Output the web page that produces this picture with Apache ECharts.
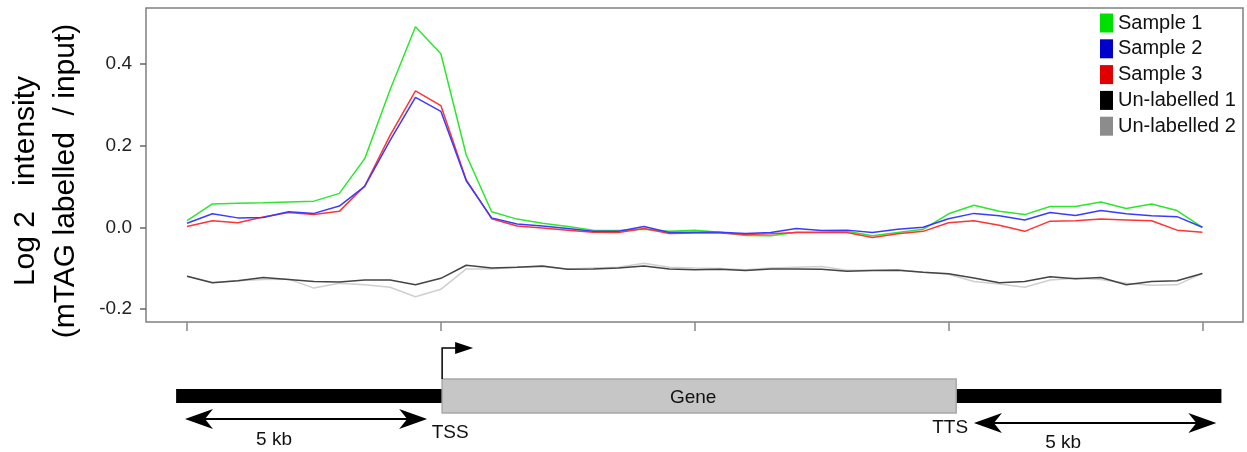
<!DOCTYPE html>
<html>
<head>
<meta charset="utf-8">
<script src="https://cdn.jsdelivr.net/npm/echarts@6.0.0/dist/echarts.min.js"></script>
<style>
  html, body { margin: 0; padding: 0; background: #fff; }
  #main { width: 1247px; height: 452px; }
</style>
</head>
<body>
<div id="main"></div>
<script>
// log2 (mTAG labelled / input), 41 bins: 5 kb upstream, gene body, 5 kb downstream
const sample1 = [0.016, 0.057, 0.059, 0.060, 0.062, 0.064, 0.083, 0.168, 0.337, 0.491,
  0.425, 0.177, 0.038, 0.020, 0.010, 0.002, -0.007, -0.008, -0.005, -0.010,
  -0.007, -0.012, -0.020, -0.021, -0.012, -0.012, -0.010, -0.021, -0.013, -0.005,
  0.033, 0.054, 0.039, 0.031, 0.051, 0.051, 0.062, 0.046, 0.057, 0.041, 0.000]
const sample2 = [0.010, 0.033, 0.023, 0.024, 0.038, 0.034, 0.052, 0.100, 0.213, 0.318,
  0.284, 0.114, 0.023, 0.008, 0.003, -0.003, -0.010, -0.010, 0.002, -0.013,
  -0.012, -0.012, -0.015, -0.013, -0.003, -0.008, -0.007, -0.013, -0.005, 0.000,
  0.021, 0.034, 0.028, 0.018, 0.036, 0.029, 0.041, 0.033, 0.028, 0.026, 0.000]
const sample3 = [0.002, 0.016, 0.011, 0.025, 0.036, 0.031, 0.039, 0.101, 0.225, 0.334,
  0.298, 0.116, 0.021, 0.003, -0.002, -0.007, -0.012, -0.013, -0.003, -0.015,
  -0.014, -0.014, -0.018, -0.016, -0.013, -0.013, -0.013, -0.025, -0.016, -0.010,
  0.011, 0.016, 0.005, -0.010, 0.015, 0.016, 0.020, 0.018, 0.016, -0.007, -0.012]
const unlabelled1 = [-0.120, -0.136, -0.131, -0.123, -0.128, -0.133, -0.134, -0.129, -0.129, -0.141,
  -0.125, -0.093, -0.100, -0.098, -0.095, -0.103, -0.102, -0.100, -0.095, -0.102,
  -0.104, -0.103, -0.106, -0.102, -0.102, -0.103, -0.108, -0.106, -0.105, -0.110,
  -0.114, -0.124, -0.136, -0.133, -0.121, -0.126, -0.123, -0.141, -0.133, -0.131, -0.113]
const unlabelled2 = [-0.120, -0.135, -0.131, -0.128, -0.127, -0.149, -0.137, -0.141, -0.147, -0.170,
  -0.152, -0.102, -0.102, -0.098, -0.097, -0.102, -0.100, -0.098, -0.088, -0.098,
  -0.100, -0.101, -0.104, -0.100, -0.098, -0.096, -0.105, -0.105, -0.104, -0.110,
  -0.115, -0.133, -0.139, -0.147, -0.129, -0.125, -0.128, -0.137, -0.142, -0.141, -0.113]

const seriesNames = ['Sample 1', 'Sample 2', 'Sample 3', 'Un-labelled 1', 'Un-labelled 2']
const xTicks = [0, 10, 20, 30, 40]      // upstream end, TSS, mid gene, TTS, downstream end
const yTicks = [-0.2, 0, 0.2, 0.4]

const font = 'Liberation Sans, Arial, sans-serif'
const lineColors = ['#2ee62e', '#3b3bff', '#ff3434', '#444444', '#cfcfcf']
const keyColors = ['#00e000', '#0000cc', '#e00000', '#000000', '#8c8c8c']

function pairs(arr) {
  return arr.map((v, i) => [i, v])
}

let myChart = echarts.init(document.getElementById('main'))

let allData = [sample1, sample2, sample3, unlabelled1, unlabelled2]
let series = []
// draw grey controls first so samples sit on top
;[4, 3, 0, 2, 1].forEach(k => {
  series.push({
    name: seriesNames[k],
    type: 'line',
    data: pairs(allData[k]),
    showSymbol: false,
    symbol: 'none',
    itemStyle: { color: lineColors[k] },
    lineStyle: { color: lineColors[k], width: 1.5 },
    emphasis: { disabled: true }
  })
})

myChart.setOption({
  animation: false,
  textStyle: { fontFamily: font },
  grid: {
    left: 146, top: 8, width: 1097, height: 314,
    show: true,
    borderColor: '#808080',
    borderWidth: 1.5
  },
  legend: {
    orient: 'vertical',
    left: 1100,
    top: 13,
    padding: 0,
    icon: 'rect',
    itemWidth: 13,
    itemHeight: 19,
    itemGap: 5.8,
    textStyle: { fontSize: 20, color: '#111', lineHeight: 19, fontFamily: font },
    data: seriesNames.map((n, k) => ({ name: n, itemStyle: { color: keyColors[k] } }))
  },
  xAxis: {
    type: 'value',
    min: -1.616,
    max: 41.6,
    axisLine: { show: false, onZero: false },
    splitLine: { show: false },
    axisLabel: { show: false },
    axisTick: {
      show: true,
      customValues: xTicks,
      length: 9,
      lineStyle: { color: '#888', width: 1.5 }
    }
  },
  yAxis: {
    type: 'value',
    min: -0.232,
    max: 0.537,
    axisLine: { show: false, onZero: false },
    splitLine: { show: false },
    axisTick: {
      show: true,
      customValues: yTicks,
      length: 6,
      lineStyle: { color: '#666', width: 1.5 }
    },
    axisLabel: {
      customValues: yTicks,
      formatter: v => v.toFixed(1),
      fontSize: 19,
      margin: 14,
      color: '#222',
      fontFamily: font
    }
  },
  series: series
})

// gene diagram under the plot, x placed through the x axis scale
function px(v) {
  return myChart.convertToPixel({ xAxisIndex: 0 }, v)
}
function arrowHead(tipX, y, dir) {
  let len = 28, half = 10, notch = 20
  return [[tipX, y], [tipX + dir * len, y - half], [tipX + dir * notch, y], [tipX + dir * len, y + half]]
}

let tss = px(10.05), tts = px(30.3)
let barL = px(-0.43), barR = px(40.75)
let a1 = [px(-0.08), px(9.46)], a2 = [px(31.0), px(40.55)]
let black = '#000'

myChart.setOption({
  graphic: [
    {
      type: 'text', x: 46, y: 181, rotation: Math.PI / 2,
      style: {
        text: 'Log 2   intensity\n(mTAG labelled  / input)',
        fontSize: 30, lineHeight: 40, fontFamily: font,
        fill: '#000', align: 'center', verticalAlign: 'middle'
      }
    },
    { type: 'rect', shape: { x: barL, y: 389, width: barR - barL, height: 14 }, style: { fill: black } },
    { type: 'rect', shape: { x: tss, y: 379, width: tts - tss, height: 34 }, style: { fill: '#c6c6c6', stroke: '#a8a8a8', lineWidth: 1.5 } },
    { type: 'text', x: (tss + tts) / 2 - 6, y: 398, style: { text: 'Gene', fontSize: 19, fontFamily: font, fill: '#111', align: 'center', verticalAlign: 'middle' } },
    { type: 'polyline', shape: { points: [[tss, 379], [tss, 348], [tss + 15, 348]] }, style: { stroke: black, lineWidth: 1.5, fill: null } },
    { type: 'polygon', shape: { points: [[tss + 13, 342], [tss + 31, 348], [tss + 13, 354]] }, style: { fill: black } },
    { type: 'line', shape: { x1: a1[0] + 15, y1: 419, x2: a1[1] - 15, y2: 419 }, style: { stroke: black, lineWidth: 2 } },
    { type: 'polygon', shape: { points: arrowHead(a1[0], 419, 1) }, style: { fill: black } },
    { type: 'polygon', shape: { points: arrowHead(a1[1], 419, -1) }, style: { fill: black } },
    { type: 'line', shape: { x1: a2[0] + 15, y1: 423, x2: a2[1] - 15, y2: 423 }, style: { stroke: black, lineWidth: 2 } },
    { type: 'polygon', shape: { points: arrowHead(a2[0], 423, 1) }, style: { fill: black } },
    { type: 'polygon', shape: { points: arrowHead(a2[1], 423, -1) }, style: { fill: black } },
    { type: 'text', x: (a1[0] + a1[1]) / 2 - 32, y: 440, style: { text: '5 kb', fontSize: 19, fontFamily: font, fill: '#111', align: 'center', verticalAlign: 'middle' } },
    { type: 'text', x: (a2[0] + a2[1]) / 2 - 32, y: 443, style: { text: '5 kb', fontSize: 19, fontFamily: font, fill: '#111', align: 'center', verticalAlign: 'middle' } },
    { type: 'text', x: tss + 8, y: 433, style: { text: 'TSS', fontSize: 19, fontFamily: font, fill: '#111', align: 'center', verticalAlign: 'middle' } },
    { type: 'text', x: tts - 6, y: 428, style: { text: 'TTS', fontSize: 19, fontFamily: font, fill: '#111', align: 'center', verticalAlign: 'middle' } }
  ]
})
</script>
</body>
</html>
